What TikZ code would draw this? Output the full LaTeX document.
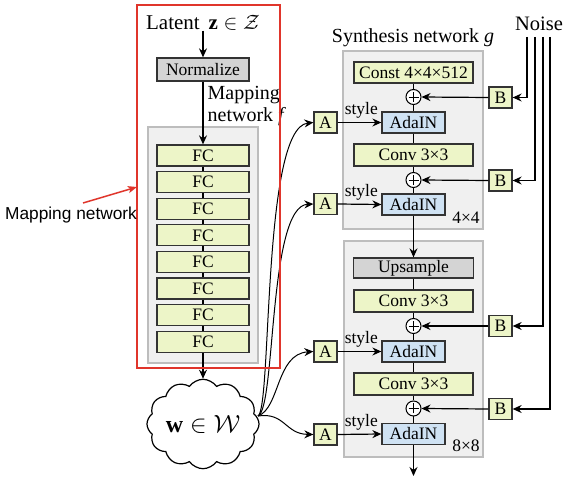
\documentclass[tikz,border=0pt]{standalone}
\usepackage{fontspec}
\setmainfont{Liberation Serif}
\newfontfamily\arialf{Liberation Sans}
\usetikzlibrary{shapes.symbols,arrows.meta,calc}
\definecolor{fcfill}{HTML}{EDF5C8}
\definecolor{adafill}{HTML}{CFE2F3}
\definecolor{grayfill}{HTML}{D4D4D4}
\definecolor{bgfill}{HTML}{F0F0F0}
\definecolor{bgdraw}{HTML}{BDBDBD}
\definecolor{boxdraw}{HTML}{333333}
\definecolor{redc}{HTML}{E0352B}
\begin{document}
\begin{tikzpicture}[x=1pt,y=-1pt,
  big/.style={font=\fontsize{20}{22}\selectfont},
  sm/.style={font=\fontsize{17.5}{19}\selectfont},
  box/.style={draw=boxdraw, line width=1.3pt, inner sep=0pt, sm},
  fcbox/.style={box, fill=fcfill, minimum width=92pt, minimum height=21pt},
  widebox/.style={box, fill=fcfill, minimum width=119pt, minimum height=21pt},
  graybox/.style={box, fill=grayfill},
  adabox/.style={box, fill=adafill, minimum width=63pt, minimum height=21pt},
  abbox/.style={box, fill=fcfill, minimum width=23pt, minimum height=21pt},
  bgbox/.style={draw=bgdraw, fill=bgfill, line width=1.2pt},
  plusnode/.style={circle, draw=black, fill=white, line width=1pt, minimum size=15pt, inner sep=0pt,
    path picture={\draw[line width=0.9pt] ([xshift=-5pt]path picture bounding box.center) -- ([xshift=5pt]path picture bounding box.center);
                  \draw[line width=0.9pt] ([yshift=-5pt]path picture bounding box.center) -- ([yshift=5pt]path picture bounding box.center);}},
  conn/.style={line width=1.2pt},
  arr/.style={line width=1.2pt, -{Stealth[length=9pt,width=8pt,inset=3pt]}},
  thinarr/.style={line width=1pt, -{Stealth[length=9pt,width=8pt,inset=3pt]}},
  redarr/.style={draw=redc, line width=1.5pt, -{Stealth[length=9pt,width=7pt,inset=2pt]}}
]
\useasboundingbox (0,0) rectangle (574,489);
\fill[white] (0,0) rectangle (574,489);

% backgrounds
\draw[bgbox] (148,127) rectangle (258,363);
\draw[bgbox] (343,51) rectangle (483,229);
\draw[bgbox] (344,241) rectangle (483,457);

% mapping network
\node[font=\fontsize{21}{22}\selectfont, inner sep=0pt] (latent) at (203,23) {Latent \,$\mathbf{z}\in\mathcal{Z}$};
\node[graybox, minimum width=92pt, minimum height=23pt] (norm) at (203,69.5) {Normalize};
\node[big, anchor=west, align=left, inner sep=0pt] (mnlab) at (207.5,106) {Mapping\\network \textit{f}};
\foreach \i in {1,...,8} {
  \node[fcbox] (fc\i) at (203,{155.5+26.6*(\i-1)}) {FC};
}
\draw[arr] (latent.south) -- (norm.north);
\draw[arr] (norm.south) -- (fc1.north);
\foreach \i/\j in {1/2,2/3,3/4,4/5,5/6,6/7,7/8} {
  \draw[conn] (fc\i.south) -- (fc\j.north);
}
\node[cloud, draw, cloud puffs=12, cloud puff arc=110, aspect=1.35, minimum width=110pt, minimum height=85pt,
      inner sep=0pt, fill=white, line width=1.2pt, font=\fontsize{24}{24}\selectfont] (w) at (203,424) {$\mathbf{w}\in\mathcal{W}$};
\draw[arr] (fc8.south) -- (w.north);

% synthesis network
\node[big] (synt) at (413,38) {Synthesis network \textit{g}};
\node[widebox] (const) at (413.5,72.5) {Const 4×4×512};
\node[plusnode] (p1) at (413.5,97) {};
\node[adabox] (ada1) at (413.5,122.5) {AdaIN};
\node[widebox, minimum height=22pt] (conv1) at (413.5,155) {Conv 3×3};
\node[plusnode] (p2) at (413.5,180) {};
\node[adabox] (ada2) at (413.5,204.5) {AdaIN};
\node[sm] (res1) at (466,218) {4×4};

\node[graybox, minimum width=120pt, minimum height=20pt] (up) at (413.5,268) {Upsample};
\node[widebox, minimum height=22pt] (conv2) at (413.5,301) {Conv 3×3};
\node[plusnode] (p3) at (413.5,326) {};
\node[adabox] (ada3) at (413.5,351.5) {AdaIN};
\node[widebox, minimum height=22pt] (conv3) at (413.5,384) {Conv 3×3};
\node[plusnode] (p4) at (413.5,408.5) {};
\node[adabox] (ada4) at (413.5,434) {AdaIN};
\node[sm] (res2) at (466,446) {8×8};
\coordinate (out) at (413.5,476);

\draw[conn] (const.south) -- (p1.north);
\draw[conn] (p1.south) -- (ada1.north);
\draw[conn] (ada1.south) -- (conv1.north);
\draw[conn] (conv1.south) -- (p2.north);
\draw[conn] (p2.south) -- (ada2.north);
\draw[arr] (ada2.south) -- (up.north);
\draw[conn] (up.south) -- (conv2.north);
\draw[conn] (conv2.south) -- (p3.north);
\draw[conn] (p3.south) -- (ada3.north);
\draw[conn] (ada3.south) -- (conv3.north);
\draw[conn] (conv3.south) -- (p4.north);
\draw[conn] (p4.south) -- (ada4.north);
\draw[arr] (ada4.south) -- (out);

% A boxes
\node[abbox] (A1) at (325.5,122.5) {A};
\node[abbox] (A2) at (325.5,204) {A};
\node[abbox] (A3) at (325.5,351.5) {A};
\node[abbox] (A4) at (325.5,434.5) {A};
\foreach \k in {1,2,3,4} {
  \draw[arr] (A\k.east) -- (ada\k.west);
  \node[sm, inner sep=0pt] at ([shift={(-20,-12)}]ada\k.west) {style};
}

% B boxes and noise
\node[abbox] (B1) at (500.5,97.5) {B};
\node[abbox] (B2) at (500.5,180.5) {B};
\node[abbox] (B3) at (500.5,326) {B};
\node[abbox] (B4) at (500.5,409) {B};
\node[font=\fontsize{20.5}{22}\selectfont] (noise) at (539,24) {Noise};
\coordinate (n1) at (527,37);
\coordinate (n2) at (535,37);
\coordinate (n3) at (543,37);
\coordinate (n4) at (550,37);
\draw[arr] (n1) |- (B1.east);
\draw[arr] (n2) |- (B2.east);
\draw[arr] (n3) |- (B3.east);
\draw[arr] (n4) |- (B4.east);
\draw[arr] (B1.west) -- (p1.east);
\draw[arr] (B2.west) -- (p2.east);
\draw[arr] (B3.west) -- (p3.east);
\draw[arr] (B4.west) -- (p4.east);

% style curves from w
\coordinate (ws) at (258,416);
\draw[thinarr] (ws) .. controls (272,408) and (262,128) .. (A1.west);
\draw[thinarr] (ws) .. controls (276,408) and (268,206) .. (A2.west);
\draw[thinarr] (ws) .. controls (280,408) and (276,354) .. (A3.west);
\draw[thinarr] (ws) .. controls (285,412) and (285,434) .. (A4.west);

% red annotation
\draw[draw=redc, line width=1.5pt] (137,5) rectangle (280,368);
\node[font=\arialf\fontsize{17.3}{19}\selectfont, inner sep=0pt] (mnote) at (71,215) {Mapping network};
\coordinate (rs) at (83,203);
\coordinate (re) at (137,187);
\draw[redarr] (rs) -- (re);
\end{tikzpicture}
\end{document}
